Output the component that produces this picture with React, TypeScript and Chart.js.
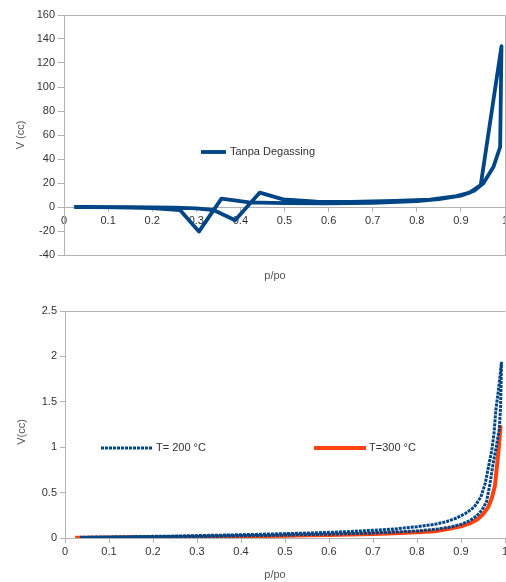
import React, { useEffect, useRef } from "react";
import { Chart, registerables } from "chart.js";

Chart.register(...registerables);

const FONT = "'Liberation Sans', Arial, Helvetica, sans-serif";
Chart.defaults.font.family = FONT;
Chart.defaults.font.size = 11;
Chart.defaults.color = "#333";

const BLUE = "#004586";
const ORANGE = "#ff420e";
const AXIS = "#b3b3b3";

// ---------- shared x ticks ----------
const xTicks = [0, 0.1, 0.2, 0.3, 0.4, 0.5, 0.6, 0.7, 0.8, 0.9, 1];

// ---------- top chart: Tanpa Degassing ----------
const topYTicks = [-40, -20, 0, 20, 40, 60, 80, 100, 120, 140, 160];
const topSeriesLabel = "Tanpa Degassing";
// adsorption branch (increasing p/po)
const topAdsP = [0.023, 0.05, 0.1, 0.15, 0.2, 0.263, 0.306, 0.357, 0.42, 0.5, 0.6, 0.7, 0.8, 0.85, 0.9, 0.93, 0.951, 0.974, 0.989, 0.992];
const topAdsV = [0, 0, -0.2, -0.5, -0.9, -2.5, -20.5, 7, 3.8, 3.2, 3, 3.5, 5, 6.5, 9.5, 13.5, 19.7, 33.6, 50, 134];
// desorption branch (decreasing p/po)
const topDesP = [0.992, 0.945, 0.92, 0.89, 0.83, 0.75, 0.65, 0.573, 0.497, 0.444, 0.388, 0.339, 0.3, 0.25, 0.15, 0.05, 0.023];
const topDesV = [134, 18.3, 12, 9, 6.2, 5, 4.2, 4.4, 6.4, 12, -11, -2.5, -1.2, -0.6, -0.2, 0, 0];

// ---------- bottom chart: T = 200 / 300 °C ----------
const botYTicks = [0, 0.5, 1, 1.5, 2, 2.5];
const t200Label = "T= 200 °C";
const t300Label = "T=300 °C";
const t200AdsP = [0.034, 0.06, 0.1, 0.15, 0.2, 0.25, 0.3, 0.35, 0.4, 0.45, 0.5, 0.55, 0.6, 0.65, 0.7, 0.75, 0.8, 0.85, 0.88, 0.9, 0.92, 0.935, 0.948, 0.958, 0.966, 0.973, 0.98, 0.987, 0.99, 0.991, 0.992];
const t200AdsV = [0.005, 0.006, 0.008, 0.01, 0.012, 0.014, 0.016, 0.02, 0.024, 0.028, 0.032, 0.037, 0.042, 0.048, 0.055, 0.065, 0.078, 0.1, 0.125, 0.15, 0.19, 0.24, 0.31, 0.4, 0.6, 0.82, 1.0, 1.2, 1.45, 1.7, 1.94];
const t200DesP = [0.992, 0.988, 0.983, 0.979, 0.975, 0.97, 0.964, 0.955, 0.945, 0.93, 0.91, 0.89, 0.867, 0.84, 0.8, 0.75, 0.7, 0.65, 0.6, 0.55, 0.5, 0.45, 0.4, 0.35, 0.3, 0.25, 0.2, 0.15, 0.1, 0.06, 0.034];
const t200DesV = [1.94, 1.75, 1.55, 1.4, 1.15, 0.97, 0.82, 0.6, 0.45, 0.34, 0.27, 0.22, 0.18, 0.15, 0.125, 0.1, 0.085, 0.072, 0.062, 0.055, 0.048, 0.042, 0.036, 0.031, 0.026, 0.021, 0.018, 0.015, 0.012, 0.01, 0.008];
const t300P = [0.023, 0.05, 0.1, 0.15, 0.2, 0.25, 0.3, 0.35, 0.4, 0.45, 0.5, 0.55, 0.6, 0.65, 0.7, 0.75, 0.8, 0.84, 0.87, 0.9, 0.92, 0.936, 0.95, 0.962, 0.97, 0.977, 0.982, 0.986, 0.99];
const t300V = [0.002, 0.003, 0.005, 0.007, 0.009, 0.011, 0.013, 0.016, 0.019, 0.022, 0.026, 0.03, 0.034, 0.039, 0.045, 0.052, 0.062, 0.075, 0.1, 0.13, 0.16, 0.2, 0.26, 0.34, 0.44, 0.57, 0.8, 1.0, 1.24];

function pts(xs: number[], ys: number[]) {
  return xs.map((x, i) => ({ x, y: ys[i] }));
}

const fmt = (v: any) => String(Math.round(Number(v) * 1000) / 1000);

type LegendItem = { text: string; color: string; width: number; dash: number[]; x1: number; x2: number; y: number; tx: number };
type OverlayCfg = {
  frame: { top: boolean; right: boolean; bottom: boolean };
  yTitle: { text: string; x: number; y: number };
  xTitle: { text: string; x: number; y: number };
  legend: LegendItem[];
};

function makeOverlay(cfg: OverlayCfg) {
  return {
    id: "overlay",
    beforeDatasetsDraw(chart: any) {
      const ctx = chart.ctx;
      const ca = chart.chartArea;
      ctx.save();
      ctx.strokeStyle = AXIS;
      ctx.lineWidth = 1;
      ctx.beginPath();
      const t = Math.round(ca.top) + 0.5;
      const r = Math.round(ca.right) + 0.5;
      const b = Math.round(ca.bottom) + 0.5;
      if (cfg.frame.top) {
        ctx.moveTo(ca.left, t);
        ctx.lineTo(r, t);
      }
      if (cfg.frame.right) {
        ctx.moveTo(r, t);
        ctx.lineTo(r, b);
      }
      if (cfg.frame.bottom) {
        ctx.moveTo(ca.left, b);
        ctx.lineTo(r, b);
      }
      ctx.stroke();
      ctx.restore();
    },
    afterDraw(chart: any) {
      const ctx = chart.ctx;
      ctx.save();
      ctx.font = `11px ${FONT}`;
      ctx.textBaseline = "middle";
      // axis titles
      ctx.fillStyle = "#555";
      ctx.textAlign = "center";
      ctx.fillText(cfg.xTitle.text, cfg.xTitle.x, cfg.xTitle.y);
      ctx.save();
      ctx.translate(cfg.yTitle.x, cfg.yTitle.y);
      ctx.rotate(-Math.PI / 2);
      ctx.fillText(cfg.yTitle.text, 0, 0);
      ctx.restore();
      // legend
      for (const it of cfg.legend) {
        ctx.save();
        ctx.strokeStyle = it.color;
        ctx.lineWidth = it.width;
        ctx.setLineDash(it.dash);
        ctx.lineCap = "butt";
        ctx.beginPath();
        ctx.moveTo(it.x1, it.y);
        ctx.lineTo(it.x2, it.y);
        ctx.stroke();
        ctx.restore();
        ctx.fillStyle = "#333";
        ctx.textAlign = "left";
        ctx.fillText(it.text, it.tx, it.y);
      }
      ctx.restore();
    },
  };
}

function buildOptions(yTicks: number[], padTop: number, padBottom: number, yWidth: number, yTickLen: number) {
  return {
    responsive: false,
    animation: false,
    events: [],
    layout: { padding: { left: 0, right: 1, top: padTop, bottom: padBottom } },
    plugins: { legend: { display: false }, tooltip: { enabled: false } },
    scales: {
      x: {
        type: "linear",
        position: { y: 0 },
        min: xTicks[0],
        max: xTicks[xTicks.length - 1],
        ticks: { stepSize: xTicks[1] - xTicks[0], padding: 3, color: "#333", font: { size: 11 }, autoSkip: false, maxRotation: 0, callback: fmt },
        grid: { drawOnChartArea: false, drawTicks: true, tickLength: 4, color: AXIS },
        border: { display: true, color: AXIS },
        afterFit: (s: any) => {
          s.paddingLeft = 0;
          s.paddingRight = 0;
        },
      },
      y: {
        type: "linear",
        position: "left",
        min: yTicks[0],
        max: yTicks[yTicks.length - 1],
        ticks: { stepSize: yTicks[1] - yTicks[0], padding: 3, color: "#333", font: { size: 11 }, callback: fmt },
        grid: { drawOnChartArea: false, drawTicks: true, tickLength: yTickLen, color: AXIS },
        border: { display: true, color: AXIS },
        afterFit: (s: any) => {
          s.width = yWidth;
        },
      },
    },
  };
}

function topConfig(): any {
  return {
    type: "scatter",
    data: {
      datasets: [
        {
          label: topSeriesLabel,
          data: [...pts(topAdsP, topAdsV), ...pts(topDesP, topDesV)],
          showLine: true,
          borderColor: BLUE,
          backgroundColor: BLUE,
          borderWidth: 3.8,
          borderJoinStyle: "round",
          pointRadius: 0,
          fill: false,
        },
      ],
    },
    options: buildOptions(topYTicks, 15, 35, 64, 6),
    plugins: [
      makeOverlay({
        frame: { top: true, right: true, bottom: true },
        yTitle: { text: "V (cc)", x: 21, y: 135 },
        xTitle: { text: "p/po", x: 275, y: 276 },
        legend: [{ text: topSeriesLabel, color: BLUE, width: 3.8, dash: [], x1: 201, x2: 226, y: 152, tx: 230 }],
      }),
    ],
  };
}

function bottomConfig(): any {
  return {
    type: "scatter",
    data: {
      datasets: [
        {
          label: t200Label,
          data: [...pts(t200AdsP, t200AdsV), ...pts(t200DesP, t200DesV)],
          showLine: true,
          borderColor: BLUE,
          backgroundColor: BLUE,
          borderWidth: 3,
          borderDash: [3, 1],
          pointRadius: 0,
          fill: false,
        },
        {
          label: t300Label,
          data: pts(t300P, t300V),
          showLine: true,
          borderColor: ORANGE,
          backgroundColor: ORANGE,
          borderWidth: 4,
          pointRadius: 0,
          fill: false,
        },
      ],
    },
    options: buildOptions(botYTicks, 21, 44, 65, 5),
    plugins: [
      makeOverlay({
        frame: { top: true, right: false, bottom: false },
        yTitle: { text: "V(cc)", x: 22, y: 142 },
        xTitle: { text: "p/po", x: 275, y: 285 },
        legend: [
          { text: t200Label, color: BLUE, width: 3, dash: [3, 1], x1: 101, x2: 152, y: 158, tx: 156 },
          { text: t300Label, color: ORANGE, width: 4, dash: [], x1: 314, x2: 366, y: 158, tx: 369 },
        ],
      }),
    ],
  };
}

function ChartCanvas({ make, width, height, top }: { make: () => any; width: number; height: number; top: number }) {
  const ref = useRef<HTMLCanvasElement>(null);
  useEffect(() => {
    if (!ref.current) return;
    const chart = new Chart(ref.current, make());
    return () => chart.destroy();
  }, []);
  return (
    <canvas
      ref={ref}
      width={width}
      height={height}
      style={{ position: "absolute", left: 0, top, width, height, display: "block" }}
    />
  );
}

export default function App() {
  return (
    <div style={{ position: "absolute", left: 0, top: 0, width: 506, height: 582, background: "#fff", overflow: "hidden" }}>
      <ChartCanvas make={topConfig} width={506} height={290} top={0} />
      <ChartCanvas make={bottomConfig} width={506} height={292} top={290} />
    </div>
  );
}
